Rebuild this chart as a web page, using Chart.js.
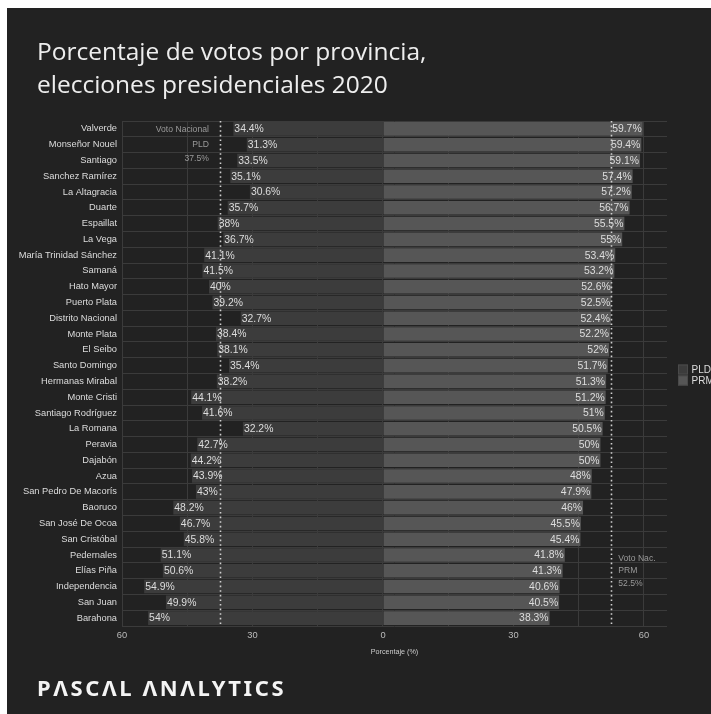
<!DOCTYPE html>
<html>
<head>
<meta charset="utf-8">
<script src="https://cdn.jsdelivr.net/npm/chart.js@4/dist/chart.umd.min.js"></script>
<style>
  html, body { margin: 0; padding: 0; background: #ffffff; width: 711px; height: 714px; overflow: hidden; }
  #panel { position: absolute; left: 7px; top: 8px; width: 704px; height: 706px; background: #222222; overflow: hidden; }
  #title { position: absolute; left: 30px; top: 26px; margin: 0; font-family: "Open Sans", sans-serif; font-weight: 400;
           font-size: 24.5px; line-height: 33.4px; color: #eeeeee; }
  #chartBox { position: absolute; left: 0; top: 0; width: 704px; height: 706px; }
  #brand { position: absolute; left: 30px; top: 664px; font-family: "Noto Sans", sans-serif; font-weight: 700;
           font-size: 22px; letter-spacing: 2.6px; color: #f4f4f4; line-height: 30px; }
</style>
</head>
<body>
<div id="panel">
  <div id="chartBox"><canvas id="chart" width="704" height="706"></canvas></div>
  <h1 id="title">Porcentaje de votos por provincia,<br>elecciones presidenciales 2020</h1>
  <div id="brand">PΛSCΛL ΛNΛLYTICS</div>
</div>
<script>
// Provinces, top to bottom
const provinces = [
  "Valverde", "Monseñor Nouel", "Santiago", "Sanchez Ramírez", "La Altagracia", "Duarte",
  "Espaillat", "La Vega", "María Trinidad Sánchez", "Samaná", "Hato Mayor", "Puerto Plata",
  "Distrito Nacional", "Monte Plata", "El Seibo", "Santo Domingo", "Hermanas Mirabal",
  "Monte Cristi", "Santiago Rodríguez", "La Romana", "Peravia", "Dajabón", "Azua",
  "San Pedro De Macorís", "Baoruco", "San José De Ocoa", "San Cristóbal", "Pedernales",
  "Elías Piña", "Independencia", "San Juan", "Barahona"
];

// Vote share (%) per province
const pldShare = [
  34.4, 31.3, 33.5, 35.1, 30.6, 35.7, 38, 36.7, 41.1, 41.5, 40, 39.2, 32.7, 38.4, 38.1, 35.4,
  38.2, 44.1, 41.6, 32.2, 42.7, 44.2, 43.9, 43, 48.2, 46.7, 45.8, 51.1, 50.6, 54.9, 49.9, 54
];
const prmShare = [
  59.7, 59.4, 59.1, 57.4, 57.2, 56.7, 55.5, 55, 53.4, 53.2, 52.6, 52.5, 52.4, 52.2, 52, 51.7,
  51.3, 51.2, 51, 50.5, 50, 50, 48, 47.9, 46, 45.5, 45.4, 41.8, 41.3, 40.6, 40.5, 38.3
];

// National result
const nationalPLD = 37.5;
const nationalPRM = 52.5;

// Axis ticks
const axisTicks = [-60, -45, -30, -15, 0, 15, 30, 45, 60];
const axisLabelled = [-60, -30, 0, 30, 60];

const COLORS = { pld: "#3c3c3c", prm: "#565656", grid: "#3b3b3b", text: "#dddddd", note: "#9a9a9a" };
const LABEL_FONT = '10.4px "Liberation Sans", Arial, sans-serif';

const overlays = {
  id: "overlays",
  afterDatasetsDraw(chart) {
    const { ctx, chartArea, scales } = chart;
    const xs = scales.x, ys = scales.y;
    ctx.save();

    // value labels at the bar ends
    ctx.font = LABEL_FONT;
    ctx.fillStyle = COLORS.text;
    ctx.textBaseline = "middle";
    const pldMeta = chart.getDatasetMeta(0), prmMeta = chart.getDatasetMeta(1);
    pldMeta.data.forEach((bar, i) => {
      ctx.textAlign = "left";
      ctx.fillText(pldShare[i] + "%", bar.x + 1, bar.y + 0.5);
    });
    prmMeta.data.forEach((bar, i) => {
      ctx.textAlign = "right";
      ctx.fillText(prmShare[i] + "%", bar.x - 1, bar.y + 0.5);
    });

    // national vote reference lines
    ctx.strokeStyle = "#d0d0d0";
    ctx.lineWidth = 1.6;
    ctx.setLineDash([1.6, 3]);
    [-nationalPLD, nationalPRM].forEach(v => {
      const px = Math.round(xs.getPixelForValue(v)) + 0.5;
      ctx.beginPath();
      ctx.moveTo(px, chartArea.top);
      ctx.lineTo(px, chartArea.bottom);
      ctx.stroke();
    });
    ctx.setLineDash([]);

    // national vote notes
    ctx.font = '8.6px "Liberation Sans", Arial, sans-serif';
    ctx.fillStyle = COLORS.note;
    const lx = xs.getPixelForValue(-nationalPLD) - 11;
    const ly = ys.getPixelForValue(1);
    ctx.textAlign = "right";
    ctx.fillText("Voto Nacional", lx, ly - 15);
    ctx.fillText("PLD", lx, ly);
    ctx.fillText(nationalPLD + "%", lx, ly + 14);
    const rx = xs.getPixelForValue(nationalPRM) + 7;
    const ry = ys.getPixelForValue(28);
    ctx.textAlign = "left";
    ctx.fillText("Voto Nac.", rx, ry - 12.5);
    ctx.fillText("PRM", rx, ry);
    ctx.fillText(nationalPRM + "%", rx, ry + 12.5);

    // legend
    const midY = (chartArea.top + chartArea.bottom) / 2;
    const items = [["PLD", COLORS.pld], ["PRM", COLORS.prm]];
    ctx.font = '10px "Liberation Sans", Arial, sans-serif';
    ctx.textAlign = "left";
    items.forEach(([name, col], k) => {
      const cy = midY - 4 + k * 11;
      ctx.fillStyle = col;
      ctx.fillRect(671, cy - 5, 10, 10);
      ctx.strokeStyle = "#4a4a4a";
      ctx.lineWidth = 1;
      ctx.strokeRect(671.5, cy - 4.5, 9, 9);
      ctx.fillStyle = COLORS.text;
      ctx.fillText(name, 684.5, cy + 0.5);
    });

    ctx.restore();
  }
};

new Chart(document.getElementById("chart"), {
  type: "bar",
  data: {
    labels: provinces,
    datasets: [
      { label: "PLD", data: pldShare.map(v => -v), backgroundColor: COLORS.pld },
      { label: "PRM", data: prmShare, backgroundColor: COLORS.prm }
    ]
  },
  options: {
    indexAxis: "y",
    responsive: false,
    animation: false,
    devicePixelRatio: 1,
    layout: { padding: { top: 113, right: 44, bottom: 58, left: 0 } },
    datasets: { bar: { barPercentage: 0.86, categoryPercentage: 1 } },
    plugins: { legend: { display: false }, tooltip: { enabled: false } },
    scales: {
      x: {
        stacked: true,
        min: -60,
        max: 65.3,
        afterFit: s => { s.height = 30; },
        afterBuildTicks: s => { s.ticks = axisTicks.map(v => ({ value: v })); },
        grid: { color: COLORS.grid, drawTicks: false, lineWidth: 1 },
        border: { display: false },
        ticks: {
          padding: 4,
          color: "#bbbbbb",
          font: { family: '"Liberation Sans", Arial, sans-serif', size: 9.3 },
          callback: v => axisLabelled.includes(v) ? String(Math.abs(v)) : ""
        },
        title: {
          display: true,
          text: "Porcentaje (%)",
          color: "#cccccc",
          padding: { top: 1, bottom: 0 },
          font: { family: '"Liberation Sans", Arial, sans-serif', size: 7.2 }
        }
      },
      y: {
        stacked: true,
        afterFit: s => { s.width = 115; },
        grid: { color: COLORS.grid, drawTicks: false, lineWidth: 1 },
        border: { display: false },
        ticks: {
          padding: 5,
          color: COLORS.text,
          font: { family: '"Liberation Sans", Arial, sans-serif', size: 9.3 }
        }
      }
    }
  },
  plugins: [overlays]
});
</script>
</body>
</html>
